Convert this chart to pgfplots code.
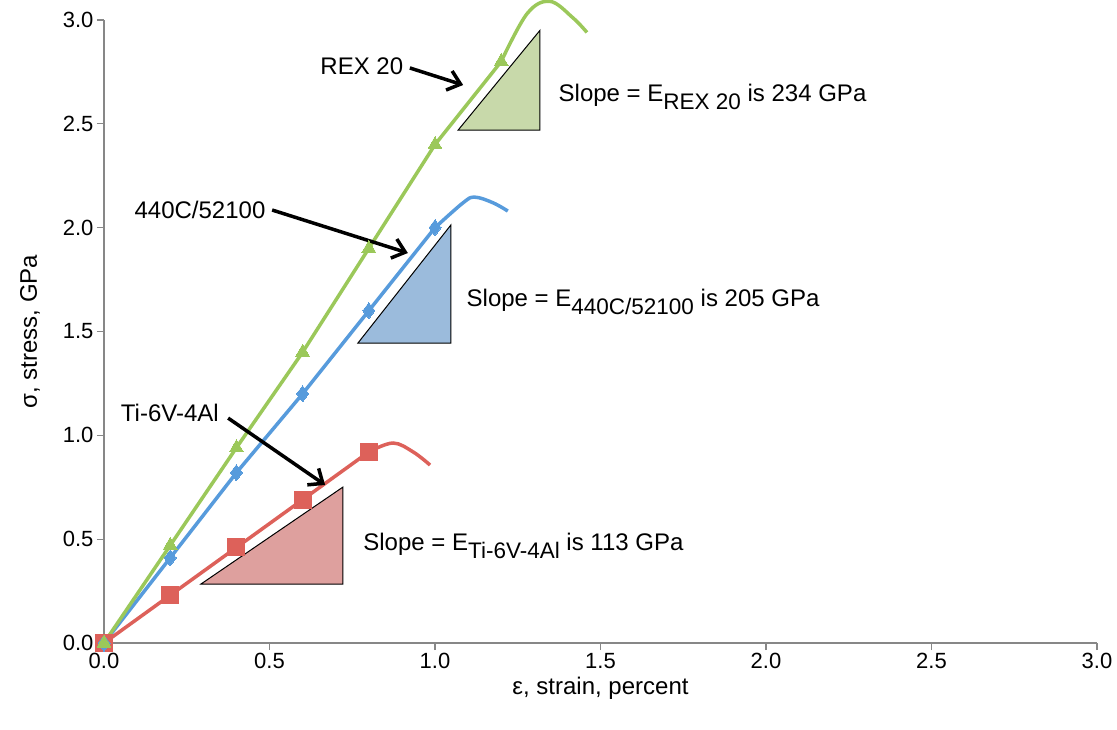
\documentclass[border=0pt]{standalone}
\usepackage{pgfplots}
\pgfplotsset{compat=1.18}
\usepackage{fontspec}
\setmainfont{Liberation Sans}
\usetikzlibrary{arrows.meta}
\definecolor{cgreen}{RGB}{155,200,90}
\definecolor{cblue}{RGB}{87,155,220}
\definecolor{cred}{RGB}{221,97,90}
\definecolor{fgreen}{RGB}{200,217,170}
\definecolor{fblue}{RGB}{155,187,220}
\definecolor{fred}{RGB}{222,160,158}
\definecolor{axgray}{RGB}{135,135,135}
\newcommand{\ann}{\fontsize{24}{27}\selectfont}
\newcommand{\tl}{\fontsize{22}{24}\selectfont}
\newcommand{\sub}[1]{\raisebox{-0.33em}{\fontsize{22.5}{22.5}\selectfont #1}}
\begin{document}
\begin{tikzpicture}
\useasboundingbox (0,0) rectangle (1117pt,729pt);
\begin{axis}[
  at={(104pt,86pt)}, anchor=south west,
  scale only axis, width=993pt, height=623pt,
  xmin=0, xmax=3, ymin=0, ymax=3,
  clip=false,
  axis lines=left, axis line style={axgray, line width=1.2pt, -},
  xtick={0,0.5,1,1.5,2,2.5,3}, ytick={0,0.5,1,1.5,2,2.5,3},
  /pgf/number format/assume math mode=true,
  /pgf/number format/fixed, /pgf/number format/fixed zerofill, /pgf/number format/precision=1,
  tick label style={font=\tl},
  tick align=outside, major tick length=7pt,
  tick style={axgray, line width=1.2pt},
  xlabel={ε, strain, percent}, ylabel={σ, stress, GPa},
  label style={font=\fontsize{24}{26}\selectfont},
  xlabel style={at={(axis description cs:0.5,-0.0722)}, anchor=center},
  ylabel style={at={(axis description cs:-0.0745,0.5)}, anchor=center},
]
% slope triangles
\addplot[draw=black, line width=1pt, fill=fgreen] coordinates {(1.07,2.47) (1.317,2.47) (1.317,2.95)} -- cycle;
\addplot[draw=black, line width=1pt, fill=fblue] coordinates {(0.767,1.444) (1.048,1.444) (1.048,2.013)} -- cycle;
\addplot[draw=black, line width=1pt, fill=fred] coordinates {(0.293,0.284) (0.722,0.284) (0.722,0.751)} -- cycle;
% extension curves
\addplot[cgreen, line width=3.5pt, smooth, tension=0.6] coordinates {(1.2,2.8) (1.278,3.03) (1.347,3.09) (1.417,3.01) (1.459,2.94)};
\addplot[cblue, line width=3.5pt, smooth, tension=0.6] coordinates {(1.0,2.0) (1.085,2.12) (1.12,2.147) (1.175,2.12) (1.22,2.08)};
\addplot[cred, line width=3.5pt, smooth, tension=0.6] coordinates {(0.8,0.92) (0.873,0.963) (0.934,0.92) (0.985,0.857)};
% data
\addplot[cred, line width=3.5pt, mark=square*, mark size=8.5pt, mark options={solid, fill=cred, draw=cred, line width=0pt}] coordinates {(0,0) (0.2,0.23) (0.4,0.46) (0.6,0.69) (0.8,0.92)};
\addplot[cblue, line width=3.5pt, mark=diamond*, mark size=8pt, mark options={solid, fill=cblue, draw=cblue, line width=0pt}] coordinates {(0,0) (0.2,0.41) (0.4,0.82) (0.6,1.2) (0.8,1.6) (1.0,2.0)};
\addplot[cgreen, line width=3.5pt, mark=triangle*, mark size=8pt, mark options={solid, fill=cgreen, draw=cgreen, line width=0pt}] coordinates {(0,0) (0.2,0.47) (0.4,0.94) (0.6,1.4) (0.8,1.9) (1.0,2.4) (1.2,2.8)};
% labels and arrows
\node[font=\ann] at (axis cs:0.779,2.778) {REX 20};
\draw[line width=3.5pt, -{Straight Barb[length=12pt,width=20pt]}] (axis cs:0.924,2.769) -- (axis cs:1.085,2.687);
\node[font=\ann] at (axis cs:0.29,2.085) {440C/52100};
\draw[line width=3.5pt, -{Straight Barb[length=12pt,width=20pt]}] (axis cs:0.508,2.085) -- (axis cs:0.918,1.878);
\node[font=\ann] at (axis cs:0.199,1.108) {Ti-6V-4Al};
\draw[line width=3.5pt, -{Straight Barb[length=12pt,width=20pt]}] (axis cs:0.375,1.083) -- (axis cs:0.668,0.761);
\node[font=\ann, anchor=west] at (axis cs:1.363,2.629) {Slope = E\sub{REX 20} is 234 GPa};
\node[font=\ann, anchor=west] at (axis cs:1.085,1.642) {Slope = E\sub{440C/52100} is 205 GPa};
\node[font=\ann, anchor=west] at (axis cs:0.773,0.467) {Slope = E\sub{Ti-6V-4Al} is 113 GPa};
\end{axis}
\end{tikzpicture}
\end{document}
